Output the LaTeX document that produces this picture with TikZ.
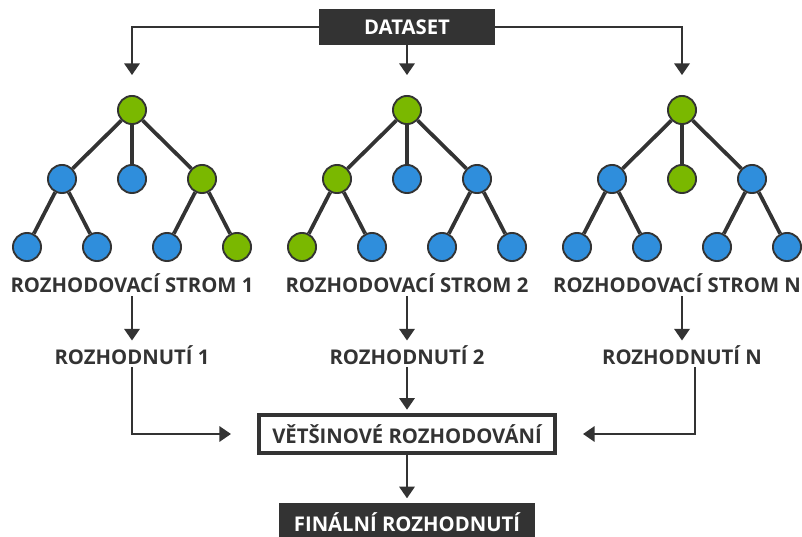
\documentclass[tikz,border=0pt]{standalone}
\usepackage{fontspec}
\setmainfont{Open Sans}
\usetikzlibrary{arrows.meta}
\definecolor{dgray}{HTML}{333333}
\definecolor{lgreen}{HTML}{7AB800}
\definecolor{lblue}{HTML}{2F8EDC}
\tikzset{
	leaf/.style={circle, draw=dgray, line width=1.6pt, minimum size=24pt, inner sep=0pt},
	edge/.style={draw=dgray, line width=3.2pt},
	arr/.style={draw=dgray, line width=2.3pt, -{Triangle[length=10pt, width=13pt]}},
	lbl/.style={text=dgray, inner sep=2pt, font=\bfseries\fontsize{17.3}{20}\selectfont},
	darkbox/.style={fill=dgray, text=white, inner sep=0pt, font=\bfseries\fontsize{17.3}{20}\selectfont},
	votebox/.style={draw=dgray, fill=white, line width=3.4pt, text=dgray, inner sep=0pt, minimum width=253pt, minimum height=32pt, font=\bfseries\fontsize{17.3}{20}\selectfont}
}

\begin{document}
\begin{tikzpicture}[x=0.03cm, y=-0.03cm]
		%%%%% START %%%%%
		\useasboundingbox (0,0) rectangle (802,537);
		
		\node[darkbox, minimum width=150pt, minimum height=30.6pt] (ds) at (407,27) {DATASET};
		
		% three trees
		\foreach \n/\x/\lx/\k/\cr/\cl/\cm/\cn/\ca/\cb/\cc/\cd in {
			1/132/132/1/lgreen/lblue/lblue/lgreen/lblue/lblue/lblue/lgreen,
			2/407/407/2/lgreen/lgreen/lblue/lblue/lgreen/lblue/lblue/lblue,
			3/682/677/N/lgreen/lblue/lgreen/lblue/lblue/lblue/lblue/lblue}
		{
			\node[leaf, fill=\cr] (r\n) at (\x,110) {};
			\node[leaf, fill=\cl] (l\n) at (\x-70,179) {};
			\node[leaf, fill=\cm] (m\n) at (\x,179) {};
			\node[leaf, fill=\cn] (n\n) at (\x+70,179) {};
			\node[leaf, fill=\ca] (a\n) at (\x-105,247) {};
			\node[leaf, fill=\cb] (b\n) at (\x-35,247) {};
			\node[leaf, fill=\cc] (c\n) at (\x+35,247) {};
			\node[leaf, fill=\cd] (d\n) at (\x+105,247) {};
			
			\draw[edge] (r\n) -- (l\n);
			\draw[edge] (r\n) -- (m\n);
			\draw[edge] (r\n) -- (n\n);
			\draw[edge] (l\n) -- (a\n);
			\draw[edge] (l\n) -- (b\n);
			\draw[edge] (n\n) -- (c\n);
			\draw[edge] (n\n) -- (d\n);
			
			\node[lbl] (s\n) at (\lx,283) {ROZHODOVACÍ STROM \k};
			\node[lbl] (e\n) at (\x,355) {ROZHODNUTÍ \k};
			\draw[arr, shorten <=1pt, shorten >=2pt] (s\n.south -| e\n) -- (e\n);
		}
		
		\draw[arr, shorten >=17pt] (ds.west) -| (r1.north);
		\draw[arr, shorten >=17pt] (ds.east) -| (r3.north);
		\draw[arr, shorten >=17pt] (ds.south) -- (r2.north);
		
		\node[votebox] (vote) at (407,434) {VĚTŠINOVÉ ROZHODOVÁNÍ};
		\node[darkbox, minimum width=219pt, minimum height=32pt] (fin) at (407,522) {FINÁLNÍ ROZHODNUTÍ};
		
		\draw[arr, shorten >=22pt] (e1.south) |- (vote.west);
		\draw[arr, shorten >=22pt] ([xshift=11pt]e3.south) |- (vote.east);
		\draw[arr, shorten >=3pt] (e2) -- (vote);
		\draw[arr, shorten >=4pt] (vote) -- (fin);
		%%%%% END %%%%%
	\end{tikzpicture}
\end{document}
